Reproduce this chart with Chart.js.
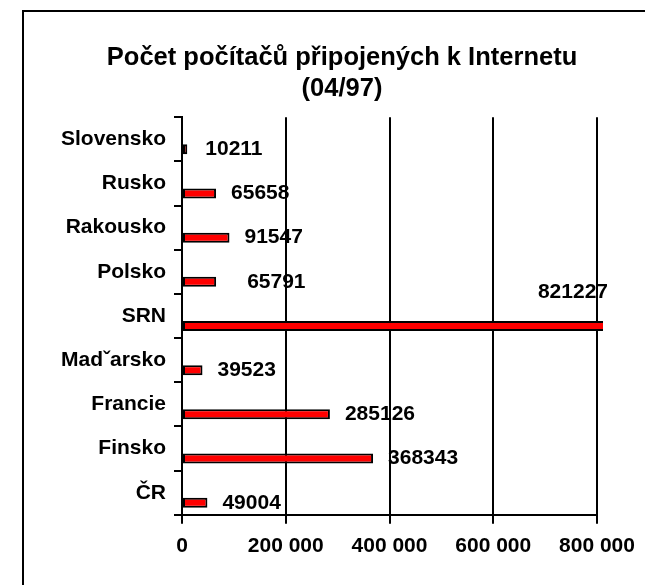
<!DOCTYPE html>
<html>
<head>
<meta charset="utf-8">
<script src="https://cdn.jsdelivr.net/npm/chart.js"></script>
<style>
    html, body { margin: 0; padding: 0; overflow: hidden; background: #fff; }
    #frame {
        position: absolute; left: 22px; top: 10px; width: 700px; height: 600px;
        border-left: 2px solid #000; border-top: 2px solid #000;
    }
    #wrap { position: absolute; left: 0; top: 0; width: 636px; height: 573px; }
</style>
</head>
<body>
<div id="frame"><div id="wrap"><canvas id="chart"></canvas></div></div>
<script>
// countries, top to bottom as in the picture
const countries = ['Slovensko', 'Rusko', 'Rakousko', 'Polsko', 'SRN', 'Madˇarsko', 'Francie', 'Finsko', 'ČR'];
const hosts = [10211, 65658, 91547, 65791, 821227, 39523, 285126, 368343, 49004];
const emptySeries = [null, null, null, null, null, null, null, null, null];
const xTicks = [0, 200000, 400000, 600000, 800000];

const FONT = '"Liberation Sans", Arial, sans-serif';

// where each value label sits relative to the end of its bar
const labelShift = {
    Slovensko: { dx: 18, dy: 0 },
    Polsko: { dx: 31, dy: 0 },
    SRN: { dx: 0, dy: -34, align: 'right' }
};

const valueLabels = {
    id: 'valueLabels',
    afterDatasetsDraw(chart) {
        const ctx = chart.ctx;
        const meta = chart.getDatasetMeta(1);
        ctx.save();
        ctx.font = 'bold 21px ' + FONT;
        ctx.fillStyle = '#000';
        ctx.textBaseline = 'middle';
        meta.data.forEach((bar, i) => {
            const s = labelShift[countries[i]] || { dx: 15, dy: 0 };
            ctx.textAlign = s.align || 'left';
            ctx.fillText(String(hosts[i]), bar.x + s.dx, bar.y + s.dy);
        });
        ctx.restore();
    }
};

new Chart(document.getElementById('chart'), {
    type: 'bar',
    data: {
        labels: countries,
        datasets: [
            { data: emptySeries },
            {
                data: hosts,
                backgroundColor: '#ff0000',
                borderColor: '#000',
                borderWidth: 2,
                borderSkipped: false,
                clip: { left: 0, top: 0, right: 6, bottom: 0 }
            }
        ]
    },
    options: {
        indexAxis: 'y',
        responsive: true,
        maintainAspectRatio: false,
        animation: false,
        categoryPercentage: 0.905,
        barPercentage: 0.5,
        layout: { padding: { top: 0, left: 0, right: 0, bottom: 16 } },
        plugins: {
            legend: { display: false },
            tooltip: { enabled: false },
            title: {
                display: true,
                text: ['Počet počítačů připojených k Internetu', '(04/97)'],
                color: '#000',
                font: { family: FONT, size: 25.5, weight: 'bold', lineHeight: 1.2 },
                padding: { top: 31, bottom: 13 }
            }
        },
        scales: {
            x: {
                min: 0,
                max: 800000,
                afterBuildTicks: (scale) => { scale.ticks = xTicks.map(v => ({ value: v })); },
                afterFit: (scale) => { scale.paddingRight = 63; },
                ticks: {
                    color: '#000',
                    padding: 10,
                    maxRotation: 0,
                    font: { family: FONT, size: 21, weight: 'bold' },
                    callback: (v) => v === 0 ? '0' : String(v / 1000) + ' 000'
                },
                grid: { color: '#000', lineWidth: 2, tickLength: 9 },
                border: { display: true, color: '#000', width: 2 }
            },
            y: {
                afterFit: (scale) => { scale.width = 158; },
                ticks: {
                    color: '#000',
                    padding: 8,
                    font: { family: FONT, size: 21, weight: 'bold' }
                },
                grid: { drawOnChartArea: false, offset: true, color: '#000', lineWidth: 2, tickLength: 8 },
                border: { display: true, color: '#000', width: 2 }
            }
        }
    },
    plugins: [valueLabels]
});
</script>
</body>
</html>
